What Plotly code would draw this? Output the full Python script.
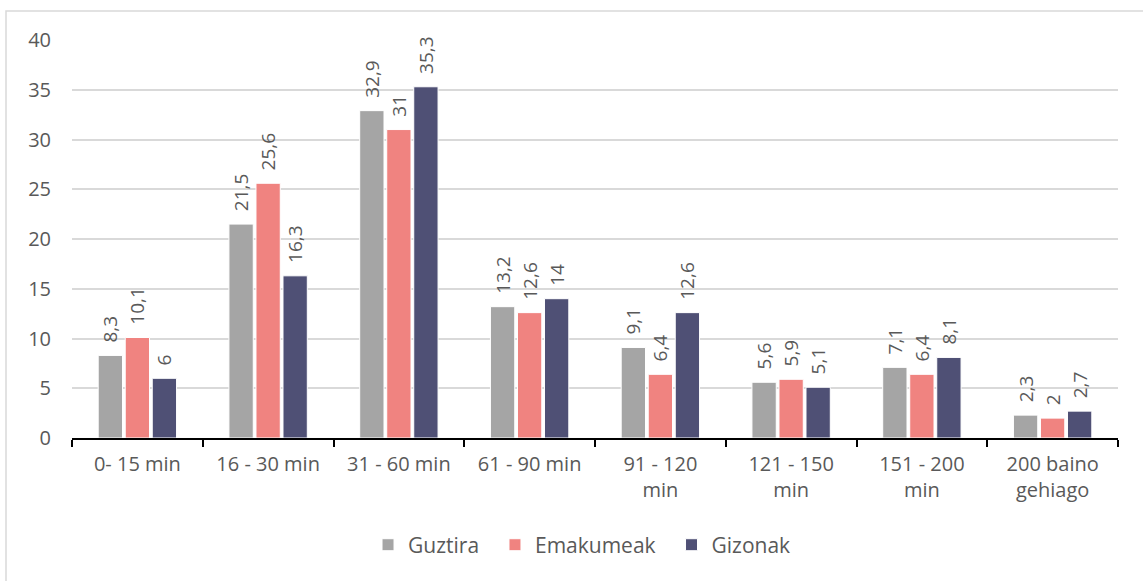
import plotly.graph_objects as go

categories = ["0- 15 min", "16 - 30 min", "31 - 60 min", "61 - 90 min",
              "91 - 120<br>min", "121 - 150<br>min", "151 - 200<br>min", "200 baino<br>gehiago"]
guztira = [8.3, 21.5, 32.9, 13.2, 9.1, 5.6, 7.1, 2.3]
emakumeak = [10.1, 25.6, 31, 12.6, 6.4, 5.9, 6.4, 2]
gizonak = [6, 16.3, 35.3, 14, 12.6, 5.1, 8.1, 2.7]
y_ticks = [0, 5, 10, 15, 20, 25, 30, 35, 40]

series = [("Guztira", guztira, "#A5A5A5"),
          ("Emakumeak", emakumeak, "#F08380"),
          ("Gizonak", gizonak, "#4F5075")]

FONT = "Open Sans"
TXT = "#595959"
PAD = "\u00a0\u00a0"

fig = go.Figure()
for i, (name, vals, col) in enumerate(series):
    fig.add_trace(go.Bar(
        x=categories, y=vals,
        name=name + (PAD if i < len(series) - 1 else ""),
        marker=dict(color=col, line=dict(color="white", width=1)),
        text=[PAD + f"{v:g}".replace(".", ",") for v in vals],
        textposition="outside", textangle=-90, constraintext="none",
        textfont=dict(family=FONT, size=19, color=TXT),
        cliponaxis=False,
    ))

fig.update_layout(
    width=1143, height=581,
    margin=dict(l=72, r=25, t=40, b=143, autoexpand=False),
    paper_bgcolor="white", plot_bgcolor="white",
    barmode="group", bargap=0.38, bargroupgap=0.1,
    font=dict(family=FONT, size=20, color=TXT),
    uniformtext=dict(mode="show", minsize=19),
    legend=dict(orientation="h", x=0.4876, xanchor="center", y=-0.269, yanchor="middle",
                font=dict(family=FONT, size=21, color=TXT), itemwidth=30,
                traceorder="normal"),
    showlegend=True,
)
fig.update_xaxes(
    automargin=False,
    showline=True, linecolor="black", linewidth=2,
    ticks="outside", tickson="boundaries", ticklen=7, tickcolor="black", tickwidth=2,
    tickfont=dict(family=FONT, size=20, color=TXT),
    ticklabelstandoff=7,
    showgrid=False,
)
fig.update_yaxes(
    automargin=False,
    range=[0, 40], tickvals=y_ticks,
    showgrid=True, gridcolor="#D9D9D9", gridwidth=1.5,
    zeroline=False, showline=False,
    tickfont=dict(family=FONT, size=20, color=TXT),
    ticklabelstandoff=20,
)
fig.add_shape(type="rect", xref="paper", yref="paper",
              x0=(6 - 72) / 1046, x1=1.2, y0=-0.6, y1=(438 - 11) / 398,
              line=dict(color="#D9D9D9", width=1.5), fillcolor="rgba(0,0,0,0)", layer="below")

fig.write_html("out.html", config={"displayModeBar": False},
               post_script="document.body.style.margin='0';document.body.style.overflow='hidden';")
